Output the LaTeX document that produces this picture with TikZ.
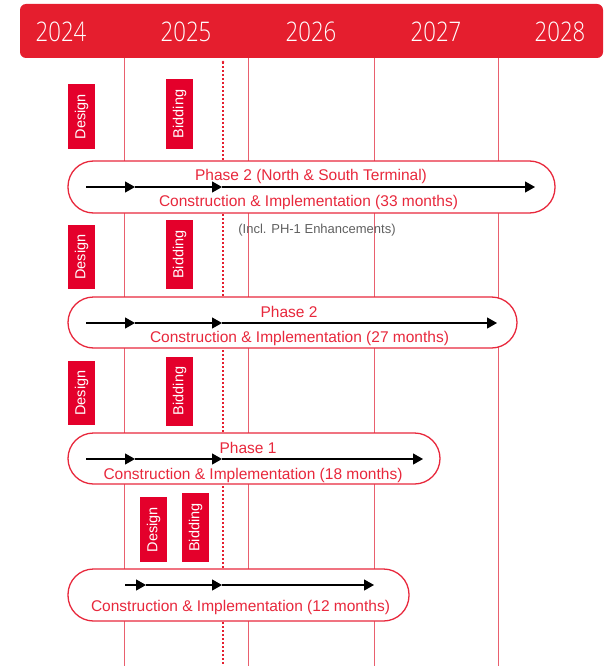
\documentclass[tikz,border=0pt]{standalone}
\usepackage{fontspec}
\setmainfont{Liberation Sans}
\newfontfamily\yearfont{Open Sans Light}
\usetikzlibrary{arrows.meta}

\definecolor{bannerred}{HTML}{E51E2E}
\definecolor{boxred}{HTML}{E4002B}
\definecolor{pillred}{HTML}{E8283C}
\definecolor{gridred}{HTML}{E9606E}
\definecolor{notegray}{HTML}{606060}

\tikzset{
  banner/.style={fill=bannerred, rounded corners=6pt, minimum width=583pt, minimum height=54pt, inner sep=0pt},
  yearlabel/.style={text=white, font=\yearfont\fontsize{27}{30}\selectfont, inner sep=0pt},
  gridline/.style={draw=gridred, line width=1pt},
  todayline/.style={draw=bannerred, line width=1.1pt, dash pattern=on 2pt off 2pt},
  % rotated label box: width runs along the text, height across it
  stagebox/.style={fill=boxred, text=white, minimum height=27pt, inner sep=0pt, rotate=90,
    font=\fontsize{14.5}{16}\selectfont},
  pill/.style={draw=pillred, line width=1.3pt, fill=white, rounded corners=25.5pt, inner sep=0pt},
  pilltext/.style={text=pillred, font=\fontsize{15.5}{18}\selectfont, inner sep=0pt},
  notetext/.style={text=notegray, font=\fontsize{13}{15}\selectfont, inner sep=0pt},
  flow/.style={line width=1.25pt, black, -{Triangle[length=10pt,width=11pt]}},
}

\newcommand{\yr}[1]{\scalebox{0.82}[1]{#1}}

\begin{document}
\begin{tikzpicture}[x=1pt,y=-1pt]
\useasboundingbox (0,0) rectangle (605,666);

% year banner
\node[banner] (banner) at (311.5,31) {};
\node[yearlabel] (y2024) at (61,32) {\yr{2024}};
\node[yearlabel] (y2025) at (186,32) {\yr{2025}};
\node[yearlabel] (y2026) at (311,32) {\yr{2026}};
\node[yearlabel] (y2027) at (436,32) {\yr{2027}};
\node[yearlabel] (y2028) at (560,32) {\yr{2028}};

% year grid and the current-date marker
\coordinate (g1t) at (124,58);  \coordinate (g1b) at (124,666);
\coordinate (g2t) at (248,58);  \coordinate (g2b) at (248,666);
\coordinate (g3t) at (374,58);  \coordinate (g3b) at (374,666);
\coordinate (g4t) at (498,58);  \coordinate (g4b) at (498,666);
\coordinate (nowt) at (223,62); \coordinate (nowb) at (223,666);
\draw[gridline] (g1t) -- (g1b);
\draw[gridline] (g2t) -- (g2b);
\draw[gridline] (g3t) -- (g3b);
\draw[gridline] (g4t) -- (g4b);
\draw[todayline] (nowt) -- (nowb);
\fill[bannerred] (nowt) circle (1.3pt);

% ---- Phase 2 (North & South Terminal)
\node[stagebox, minimum width=64pt] (d1) at (81.5,116.5) {Design};
\node[stagebox, minimum width=69pt] (b1) at (179.5,114) {Bidding};
\node[pill, minimum width=487pt, minimum height=52pt] (p1) at (311.5,187) {};
\node[pilltext] (p1a) at (311,176.5) {Phase 2 (North \& South Terminal)};
\node[pilltext] (p1b) at (308.5,202.5) {Construction \& Implementation (33 months)};
\coordinate (a1s) at (86,187);  \coordinate (a1m) at (135,187);
\coordinate (a1n) at (222,187); \coordinate (a1e) at (535,187);
\draw[flow] (a1s) -- (a1m);
\draw[flow] (a1m) -- (a1n);
\draw[flow] (a1n) -- (a1e);
\node[notetext] (note) at (317,230) {(Incl. PH-1 Enhancements)};

% ---- Phase 2
\node[stagebox, minimum width=64pt] (d2) at (81.5,257) {Design};
\node[stagebox, minimum width=69pt] (b2) at (179.5,254.5) {Bidding};
\node[pill, minimum width=449pt, minimum height=51pt] (p2) at (292.5,322.5) {};
\node[pilltext] (p2a) at (289,311.5) {Phase 2};
\node[pilltext] (p2b) at (299.5,338.5) {Construction \& Implementation (27 months)};
\coordinate (a2s) at (86,323);  \coordinate (a2m) at (135,323);
\coordinate (a2n) at (222,323); \coordinate (a2e) at (497,323);
\draw[flow] (a2s) -- (a2m);
\draw[flow] (a2m) -- (a2n);
\draw[flow] (a2n) -- (a2e);

% ---- Phase 1
\node[stagebox, minimum width=64pt] (d3) at (81.5,393) {Design};
\node[stagebox, minimum width=69pt] (b3) at (179.5,391) {Bidding};
\node[pill, minimum width=372pt, minimum height=51pt] (p3) at (254,458.5) {};
\node[pilltext] (p3a) at (248,447.5) {Phase 1};
\node[pilltext] (p3b) at (253,475.5) {Construction \& Implementation (18 months)};
\coordinate (a3s) at (86,459);  \coordinate (a3m) at (135,459);
\coordinate (a3n) at (222,459); \coordinate (a3e) at (423,459);
\draw[flow] (a3s) -- (a3m);
\draw[flow] (a3m) -- (a3n);
\draw[flow] (a3n) -- (a3e);

% ---- 12-month package
\node[stagebox, minimum width=65pt] (d4) at (153.5,529.5) {Design};
\node[stagebox, minimum width=69pt] (b4) at (195.5,527.5) {Bidding};
\node[pill, minimum width=341pt, minimum height=52pt] (p4) at (238.5,595) {};
\node[pilltext] (p4b) at (240.5,607.5) {Construction \& Implementation (12 months)};
\coordinate (a4s) at (125,585); \coordinate (a4m) at (146,585);
\coordinate (a4n) at (222,585); \coordinate (a4e) at (374,585);
\draw[flow] (a4s) -- (a4m);
\draw[flow] (a4m) -- (a4n);
\draw[flow] (a4n) -- (a4e);
\end{tikzpicture}
\end{document}
